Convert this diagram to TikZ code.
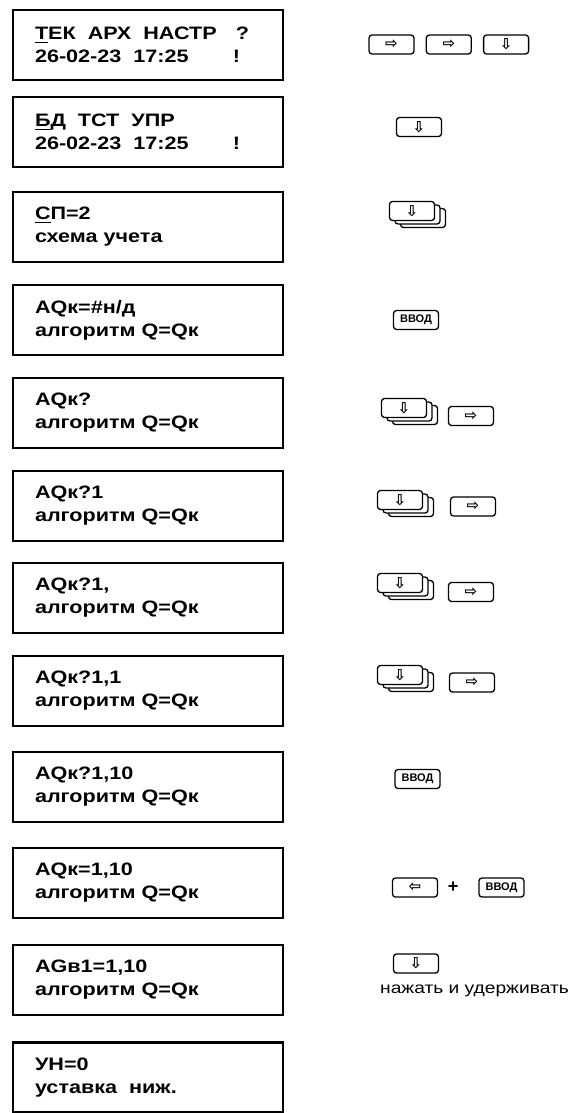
\documentclass[tikz,border=0pt]{standalone}
\usepackage{fontspec}
\setmainfont{Liberation Sans}
\newfontfamily\lcdfont[FakeStretch=1.2]{Liberation Sans}
\newfontfamily\symfont{DejaVu Sans}
\usetikzlibrary{positioning}

\newcommand{\wgap}{\hspace{12pt}}
\newcommand{\rpad}[1]{\rule{#1}{0pt}}
\newcommand{\cur}[1]{\leavevmode\setbox0=\hbox{#1}\rlap{\rule[-3.5pt]{\wd0}{1.6pt}}\box0}

\begin{document}
\begin{tikzpicture}[
    x=1pt, y=-1pt,
    lcd/.style    = {draw, line width=2.5pt, minimum width=270pt,
                     minimum height=70pt, text width=226pt, inner xsep=22pt,
                     align=left, font=\lcdfont\bfseries\fontsize{18}{23}\selectfont},
    key/.style    = {draw, line width=1.3pt, rounded corners=3pt, fill=white,
                     minimum width=45pt, minimum height=19pt, inner sep=0pt,
                     font=\symfont\bfseries\fontsize{15}{15}\selectfont},
    entkey/.style = {key, font=\bfseries\fontsize{11}{11}\selectfont},
    plus/.style   = {font=\bfseries\fontsize{18}{18}\selectfont, inner sep=0pt},
    note/.style   = {font=\lcdfont\fontsize{16}{18}\selectfont, inner sep=0pt},
]
\fill[white] (0,0) rectangle (576,1113);
\useasboundingbox (0,0) rectangle (576,1113);

%% ── Display screens ───────────────────────────────────────────────────────
\node[lcd] (b1) at (148,45)
  {\cur{Т}ЕК\wgap АРХ\wgap НАСТР\hfill ?\rpad{12pt}\\
   26-02-23\wgap 17:25\hfill !\rpad{21pt}};
\node[lcd, below=14.5pt of b1] (b2)
  {\cur{Б}Д\wgap ТСТ\wgap УПР\\
   26-02-23\wgap 17:25\hfill !\rpad{21pt}};
\node[lcd, below=22.5pt of b2] (b3)
  {\cur{С}П=2\\схема учета};
\node[lcd, below=20.5pt of b3] (b4)
  {AQк=\#н/д\\алгоритм Q=Qк};
\node[lcd, below=20.5pt of b4] (b5)
  {AQк?\\алгоритм Q=Qк};
\node[lcd, below=20.5pt of b5] (b6)
  {AQк?1\\алгоритм Q=Qк};
\node[lcd, below=19.5pt of b6] (b7)
  {AQк?1,\\алгоритм Q=Qк};
\node[lcd, below=20.5pt of b7] (b8)
  {AQк?1,1\\алгоритм Q=Qк};
\node[lcd, below=23.5pt of b8] (b9)
  {AQк?1,10\\алгоритм Q=Qк};
\node[lcd, below=23.5pt of b9] (b10)
  {AQк=1,10\\алгоритм Q=Qк};
\node[lcd, below=24.5pt of b10] (b11)
  {AGв1=1,10\\алгоритм Q=Qк};
\node[lcd, below=25pt of b11] (b12)
  {УН=0\\уставка\wgap ниж.};

%% ── Keys: rows 1-4 ────────────────────────────────────────────────────────
\node[key] (k1a) at (391.5,44.5) {⇨};
\node[key, right=11pt of k1a] (k1b) {⇨};
\node[key, right=11pt of k1b] (k1c) {⇩};

\node[key] (k2) at (419,127) {⇩};

\node[key] (k3c) at (423,218) {};
\node[key] (k3b) at (417.5,214.5) {};
\node[key] (k3)  at (412,211) {⇩};

\node[entkey] (k4) at (416,320) {ВВОД};

%% ── Keys: rows 5-8 (held down, then right) ────────────────────────────────
\node[key] (k5c) at (415,415) {};
\node[key] (k5b) at (409.5,411.5) {};
\node[key] (k5)  at (404,408) {⇩};
\node[key] (k5r) at (471,416) {⇨};

\node[key] (k6c) at (411,507) {};
\node[key] (k6b) at (405.5,503.5) {};
\node[key] (k6)  at (400,500) {⇩};
\node[key] (k6r) at (473,506.5) {⇨};

\node[key] (k7c) at (411,590) {};
\node[key] (k7b) at (405.5,586.5) {};
\node[key] (k7)  at (400,583) {⇩};
\node[key] (k7r) at (471,592) {⇨};

\node[key] (k8c) at (411,682) {};
\node[key] (k8b) at (405.5,678.5) {};
\node[key] (k8)  at (400,675) {⇩};
\node[key] (k8r) at (472,682.5) {⇨};

%% ── Keys: rows 9-11 ───────────────────────────────────────────────────────
\node[entkey] (k9) at (417.5,779) {ВВОД};

\node[key] (k10a) at (415,887.5) {⇦};
\node[plus] (pl) at (453,887.5) {+};
\node[entkey] (k10b) at (501.5,887.5) {ВВОД};

\node[key] (k11) at (416,963.5) {⇩};
\node[note, anchor=base] (hold) at (474.5,993) {нажать и удерживать};

\end{tikzpicture}
\end{document}
